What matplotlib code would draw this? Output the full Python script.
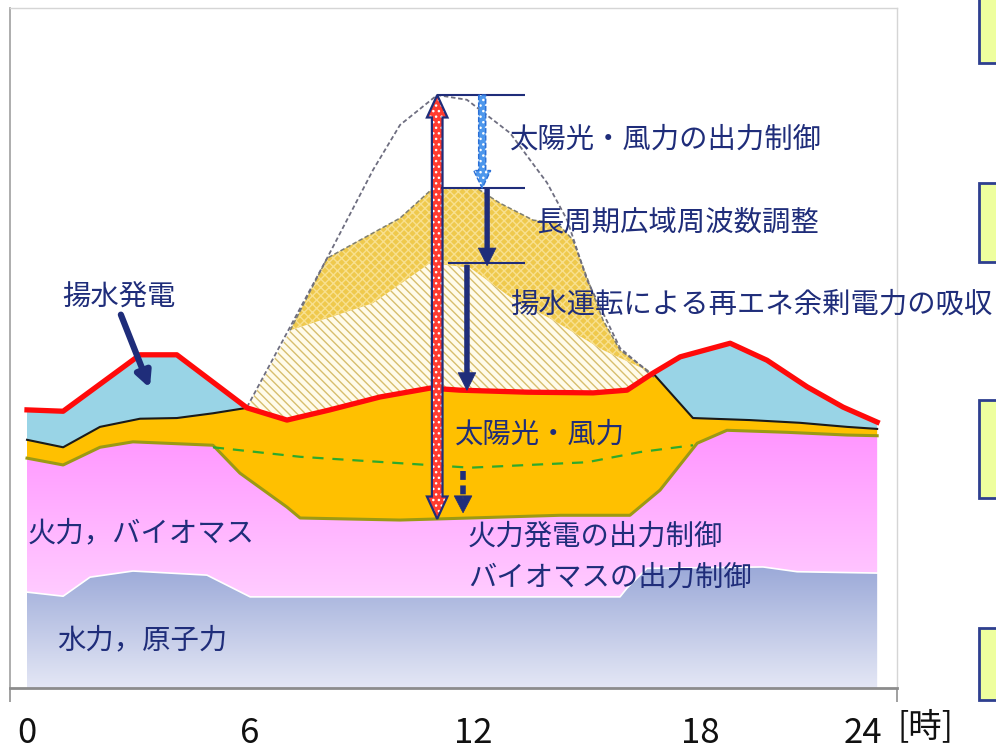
import numpy as np
import matplotlib
matplotlib.use('Agg')
import matplotlib.pyplot as plt
import matplotlib.colors as mcolors
from matplotlib.patches import Polygon, Rectangle
from matplotlib import font_manager

plt.rcParams['font.family'] = ['Noto Sans CJK JP', 'DejaVu Sans']

# hour of day / output level (arbitrary units, 0-100 = full axis)
# nuclear + hydro top
base_h = np.array([0, 1.02, 1.78, 2.99, 5.08, 6.30, 16.74, 16.94, 17.50, 20.78, 21.74, 24])
base_v = np.array([14.1, 13.5, 16.3, 17.2, 16.6, 13.4, 13.4, 14.7, 17.6, 17.8, 17.1, 16.9])
# thermal + biomass top
thermal_h = np.array([0, 1.02, 2.06, 2.99, 5.25, 6.01, 7.34, 7.71, 10.53, 12.51, 15.05, 17.02,
                      17.87, 18.92, 19.76, 21.46, 23.15, 24])
thermal_v = np.array([33.8, 32.8, 35.4, 36.2, 35.7, 31.6, 26.6, 25.0, 24.7, 25.0, 25.4, 25.4,
                      29.1, 36.0, 37.9, 37.6, 37.2, 37.1])
# thermal before output control (green dashed)
thermal0_h = np.array([5.25, 7.71, 12.51, 15.81, 17.31, 18.80])
thermal0_v = np.array([35.4, 34.0, 32.4, 33.2, 34.7, 35.7])
# solar + wind top (morning / evening parts)
res_left_h = np.array([0, 1.02, 2.06, 3.19, 4.23, 5.25, 6.21])
res_left_v = np.array([36.5, 35.4, 38.4, 39.6, 39.7, 40.4, 41.2])
res_right_h = np.array([17.67, 18.80, 20.41, 21.82, 23.15, 24])
res_right_v = np.array([46.3, 39.7, 39.4, 39.0, 38.4, 38.1])
# demand (red)
demand_h = np.array([0, 1.02, 3.19, 4.23, 6.21, 7.34, 8.55, 9.97, 11.38, 12.22, 14.12, 15.98,
                     16.94, 17.67, 18.44, 19.85, 20.89, 22.02, 23.04, 24])
demand_v = np.array([40.9, 40.7, 49.0, 49.0, 41.2, 39.4, 40.9, 42.8, 44.1, 43.8, 43.5, 43.4,
                     43.8, 46.3, 48.7, 50.7, 48.2, 44.3, 41.3, 39.1])
# pumping absorption top
pump_h = np.array([6.21, 7.43, 9.77, 11.38, 12.51, 13.64, 14.85, 16.26, 17.59])
pump_v = np.array([41.2, 52.6, 56.6, 62.5, 61.8, 57.5, 54.1, 49.7, 46.5])
# after solar/wind output control
ctrl_h = np.array([7.43, 8.47, 10.53, 11.46, 12.70, 13.35, 14.29, 14.96, 15.41, 16.26, 16.74, 17.73])
ctrl_v = np.array([52.6, 63.2, 69.1, 73.5, 73.5, 71.3, 68.8, 68.4, 65.9, 54.1, 49.7, 45.9])
# potential solar/wind output (dotted)
pot_h = np.array([6.21, 8.47, 9.77, 10.53, 11.58, 12.42, 13.64, 14.68, 15.25, 15.81, 16.74, 17.73])
pot_v = np.array([41.3, 63.2, 76.2, 82.8, 87.2, 86.5, 81.6, 74.3, 68.8, 60.0, 50.0, 45.6])

tick_pos = [0, 6.3, 12.6, 19.0, 23.6]
tick_lab = ['0', '6', '12', '18', '24']

navy = '#1F2D7A'
W, H = 996, 749

installed = {f.name for f in font_manager.fontManager.ttflist}
tick_font = ['Liberation Sans Narrow'] if 'Liberation Sans Narrow' in installed else ['Noto Sans CJK JP']


def fx(x):
    return x / W


def fy(y):
    return 1 - y / H


def grad_fill(ax, xs, ys, c_top, c_bot, z):
    poly = Polygon(np.column_stack([xs, ys]), closed=True, fc='none', ec='none')
    ax.add_patch(poly)
    ct = np.array(mcolors.to_rgb(c_top))
    cb = np.array(mcolors.to_rgb(c_bot))
    t = np.linspace(1, 0, 256)[:, None]
    img = cb + (ct - cb) * t
    img = np.repeat(img[:, None, :], 2, axis=1)
    im = ax.imshow(img, extent=[xs.min(), xs.max(), ys.min(), ys.max()], aspect='auto',
                   origin='upper', zorder=z, interpolation='bilinear')
    im.set_clip_path(poly)


def varrow(x, y0, y1, sw, hw, hl, both=False):
    s = np.sign(y1 - y0)
    if both:
        pts = [(x, y0), (x - hw / 2, y0 + s * hl), (x - sw / 2, y0 + s * hl),
               (x - sw / 2, y1 - s * hl), (x - hw / 2, y1 - s * hl), (x, y1),
               (x + hw / 2, y1 - s * hl), (x + sw / 2, y1 - s * hl),
               (x + sw / 2, y0 + s * hl), (x + hw / 2, y0 + s * hl)]
    else:
        pts = [(x - sw / 2, y0), (x - sw / 2, y1 - s * hl), (x - hw / 2, y1 - s * hl), (x, y1),
               (x + hw / 2, y1 - s * hl), (x + sw / 2, y1 - s * hl), (x + sw / 2, y0)]
    return np.array(pts)


fig = plt.figure(figsize=(9.96, 7.49), dpi=100)
ax = fig.add_axes([fx(10), fy(688), fx(887), 680 / H])

# nuclear / hydro
grad_fill(ax, np.r_[base_h, 24, 0], np.r_[base_v, 0, 0], '#9BA9D8', '#E4E7F5', 1)
# thermal / biomass
grad_fill(ax, np.r_[thermal_h, base_h[::-1]], np.r_[thermal_v, base_v[::-1]],
          '#FF95FF', '#FFCCFF', 1)
ax.plot(base_h, base_v, color='white', lw=1.2, zorder=1.5)

# solar / wind
mid = (demand_h > res_left_h[-1]) & (demand_h < res_right_h[0])
orange_h = np.r_[res_left_h, demand_h[mid], res_right_h]
orange_v = np.r_[res_left_v, demand_v[mid], res_right_v]
ax.fill(np.r_[orange_h, thermal_h[::-1]], np.r_[orange_v, thermal_v[::-1]],
        color='#FFC000', lw=0, zorder=2)

# pumped storage generation
lm = demand_h <= res_left_h[-1]
ax.fill(np.r_[demand_h[lm], res_left_h[::-1]], np.r_[demand_v[lm], res_left_v[::-1]],
        color='#99D4E6', lw=0, zorder=2)
rm = demand_h >= res_right_h[0]
ax.fill(np.r_[demand_h[rm], res_right_h[::-1]], np.r_[demand_v[rm], res_right_v[::-1]],
        color='#99D4E6', lw=0, zorder=2)

# surplus absorbed by pumping (light hatched)
pm = (demand_h >= pump_h[0]) & (demand_h <= res_right_h[0])
px_ = np.r_[pump_h, demand_h[pm][::-1]]
py_ = np.r_[pump_v, demand_v[pm][::-1]]
ax.fill(px_, py_, color='#FFFBEA', lw=0, zorder=2)
ax.fill(px_, py_, fc='none', ec='#D7BE6E', hatch='\\\\\\\\', lw=0, zorder=2.1)

# long-period frequency adjustment (dense gold)
cm = pump_h >= ctrl_h[0]
cx_ = np.r_[ctrl_h, pump_h[cm][::-1]]
cy_ = np.r_[ctrl_v, pump_v[cm][::-1]]
ax.fill(cx_, cy_, color='#EFC94C', lw=0, zorder=2)
ax.fill(cx_, cy_, fc='none', ec='#F8E08F', hatch='xxxx', lw=0, zorder=2.1)

# outlines
ax.plot(res_left_h, res_left_v, color='#1A1A1A', lw=1.5, zorder=3)
ax.plot(res_right_h, res_right_v, color='#1A1A1A', lw=1.5, zorder=3)
ax.plot(thermal_h, thermal_v, color='#9C9A14', lw=2.2, zorder=3)
ax.plot(ctrl_h, ctrl_v, color='#7F7F70', lw=1.1, dashes=(3, 1.5), zorder=3)
ax.plot(pot_h, pot_v, color='#6E6E80', lw=1.3, dashes=(2.5, 1.5), zorder=3)
ax.plot(thermal0_h, thermal0_v, color='#2DAA2D', lw=1.6, dashes=(5, 4), zorder=3)
ax.plot(demand_h, demand_v, color='#FF0A0A', lw=3.8, zorder=4, solid_joinstyle='round')

# arrows derived from the curves
peak_i = np.argmax(pot_v)
x_peak, v_peak = pot_h[peak_i], pot_v[peak_i]
v_ctrl = ctrl_v.max()
v_pump = pump_v.max()
v_low = np.interp(x_peak, thermal_h, thermal_v)

red = varrow(x_peak, v_low, v_peak, 0.30, 0.58, 3.3, both=True)
ax.add_patch(Polygon(red, closed=True, fc='#FF3B2F', ec='none', zorder=5))
ax.add_patch(Polygon(red, closed=True, fc='none', ec='white', hatch='...', lw=0, zorder=5.1))
ax.add_patch(Polygon(red, closed=True, fc='none', ec=navy, lw=1.6, zorder=5.2))

x_end = 14.06
ax.hlines([v_peak, v_ctrl, v_pump], [x_peak, x_peak + 0.1, x_peak + 0.3], x_end,
          color=navy, lw=1.5, zorder=5)

xb = x_peak + 1.27
blue = varrow(xb, v_peak, v_ctrl, 0.2, 0.48, 2.6)
ax.add_patch(Polygon(blue, closed=True, fc='#4D97EC', ec='none', zorder=5))
ax.add_patch(Polygon(blue, closed=True, fc='none', ec='white', hatch='...', lw=0, zorder=5.1))
ax.add_patch(Polygon(blue, closed=True, fc='none', ec='#2A6FD6', lw=1, ls='--', zorder=5.2))

a2 = varrow(x_peak + 1.41, v_ctrl, v_pump - 0.4, 0.13, 0.5, 2.6)
ax.add_patch(Polygon(a2, closed=True, fc=navy, ec=navy, lw=0.5, zorder=5))
v_dem = np.interp(x_peak + 0.84, demand_h, demand_v)
a3 = varrow(x_peak + 0.84, v_pump - 0.3, v_dem, 0.13, 0.5, 2.6)
ax.add_patch(Polygon(a3, closed=True, fc=navy, ec=navy, lw=0.5, zorder=5))

xd = x_peak + 0.73
v_g = np.interp(xd, thermal0_h, thermal0_v)
ax.vlines(xd, v_g - 0.6, v_low + 2.8, color=navy, lw=4, linestyles=(0, (1.6, 1.0)), zorder=5)
a4 = varrow(xd, v_low + 3.0, v_low + 0.9, 0.01, 0.5, 2.5)
ax.add_patch(Polygon(a4, closed=True, fc=navy, ec=navy, lw=0.5, zorder=5))

# pumped generation pointer
ax.annotate('', xy=(3.47, 44.1), xytext=(2.65, 54.9),
            arrowprops=dict(arrowstyle='-|>,head_length=0.9,head_width=0.45',
                            color=navy, lw=4.5, shrinkA=0, shrinkB=0), zorder=6)

# axes styling
ax.set_xlim(-0.48, 24.56)
ax.set_ylim(0, 100)
ax.set_yticks([])
ax.set_xticks(tick_pos, tick_lab, fontsize=25, family=tick_font)
ax.tick_params(axis='x', length=0, pad=20, labelcolor='#111111')
ax.set_xticks([-0.48, 24.56], minor=True)
ax.tick_params(axis='x', which='minor', length=10, width=1.2, color='#909090')
for side in ['top', 'right']:
    ax.spines[side].set_color('#D5D5D5')
    ax.spines[side].set_linewidth(1)
ax.spines['left'].set_color('#A0A0A0')
ax.spines['left'].set_linewidth(1.2)
ax.spines['bottom'].set_color('#8C8C8C')
ax.spines['bottom'].set_linewidth(2)

fig.text(fx(897), fy(727), '[時]', fontsize=24, va='center', ha='left', color='#111111')

# labels
fs = 20.4
labels = [
    ('揚水発電', 62, 297),
    ('太陽光・風力の出力制御', 510, 140),
    ('長周期広域周波数調整', 535, 222),
    ('揚水運転による再エネ余剰電力の吸収', 510, 305),
    ('太陽光・風力', 455, 435),
    ('火力発電の出力制御', 468, 537),
    ('バイオマスの出力制御', 468, 578),
    ('火力，バイオマス', 28, 533),
    ('水力，原子力', 57, 640),
]
for s, x, y in labels:
    fig.text(fx(x), fy(y), s, fontsize=fs, color=navy, ha='left', va='center', zorder=10)

# boxes cut at the right edge
for top, bot in [(-5, 63), (183, 262), (400, 498), (628, 700)]:
    fig.add_artist(Rectangle((fx(979), fy(bot)), fx(40), (bot - top) / H,
                             transform=fig.transFigure, fc='#EEFF9E', ec='#2E3F8F', lw=2))

fig.savefig('out.png', dpi=100)
